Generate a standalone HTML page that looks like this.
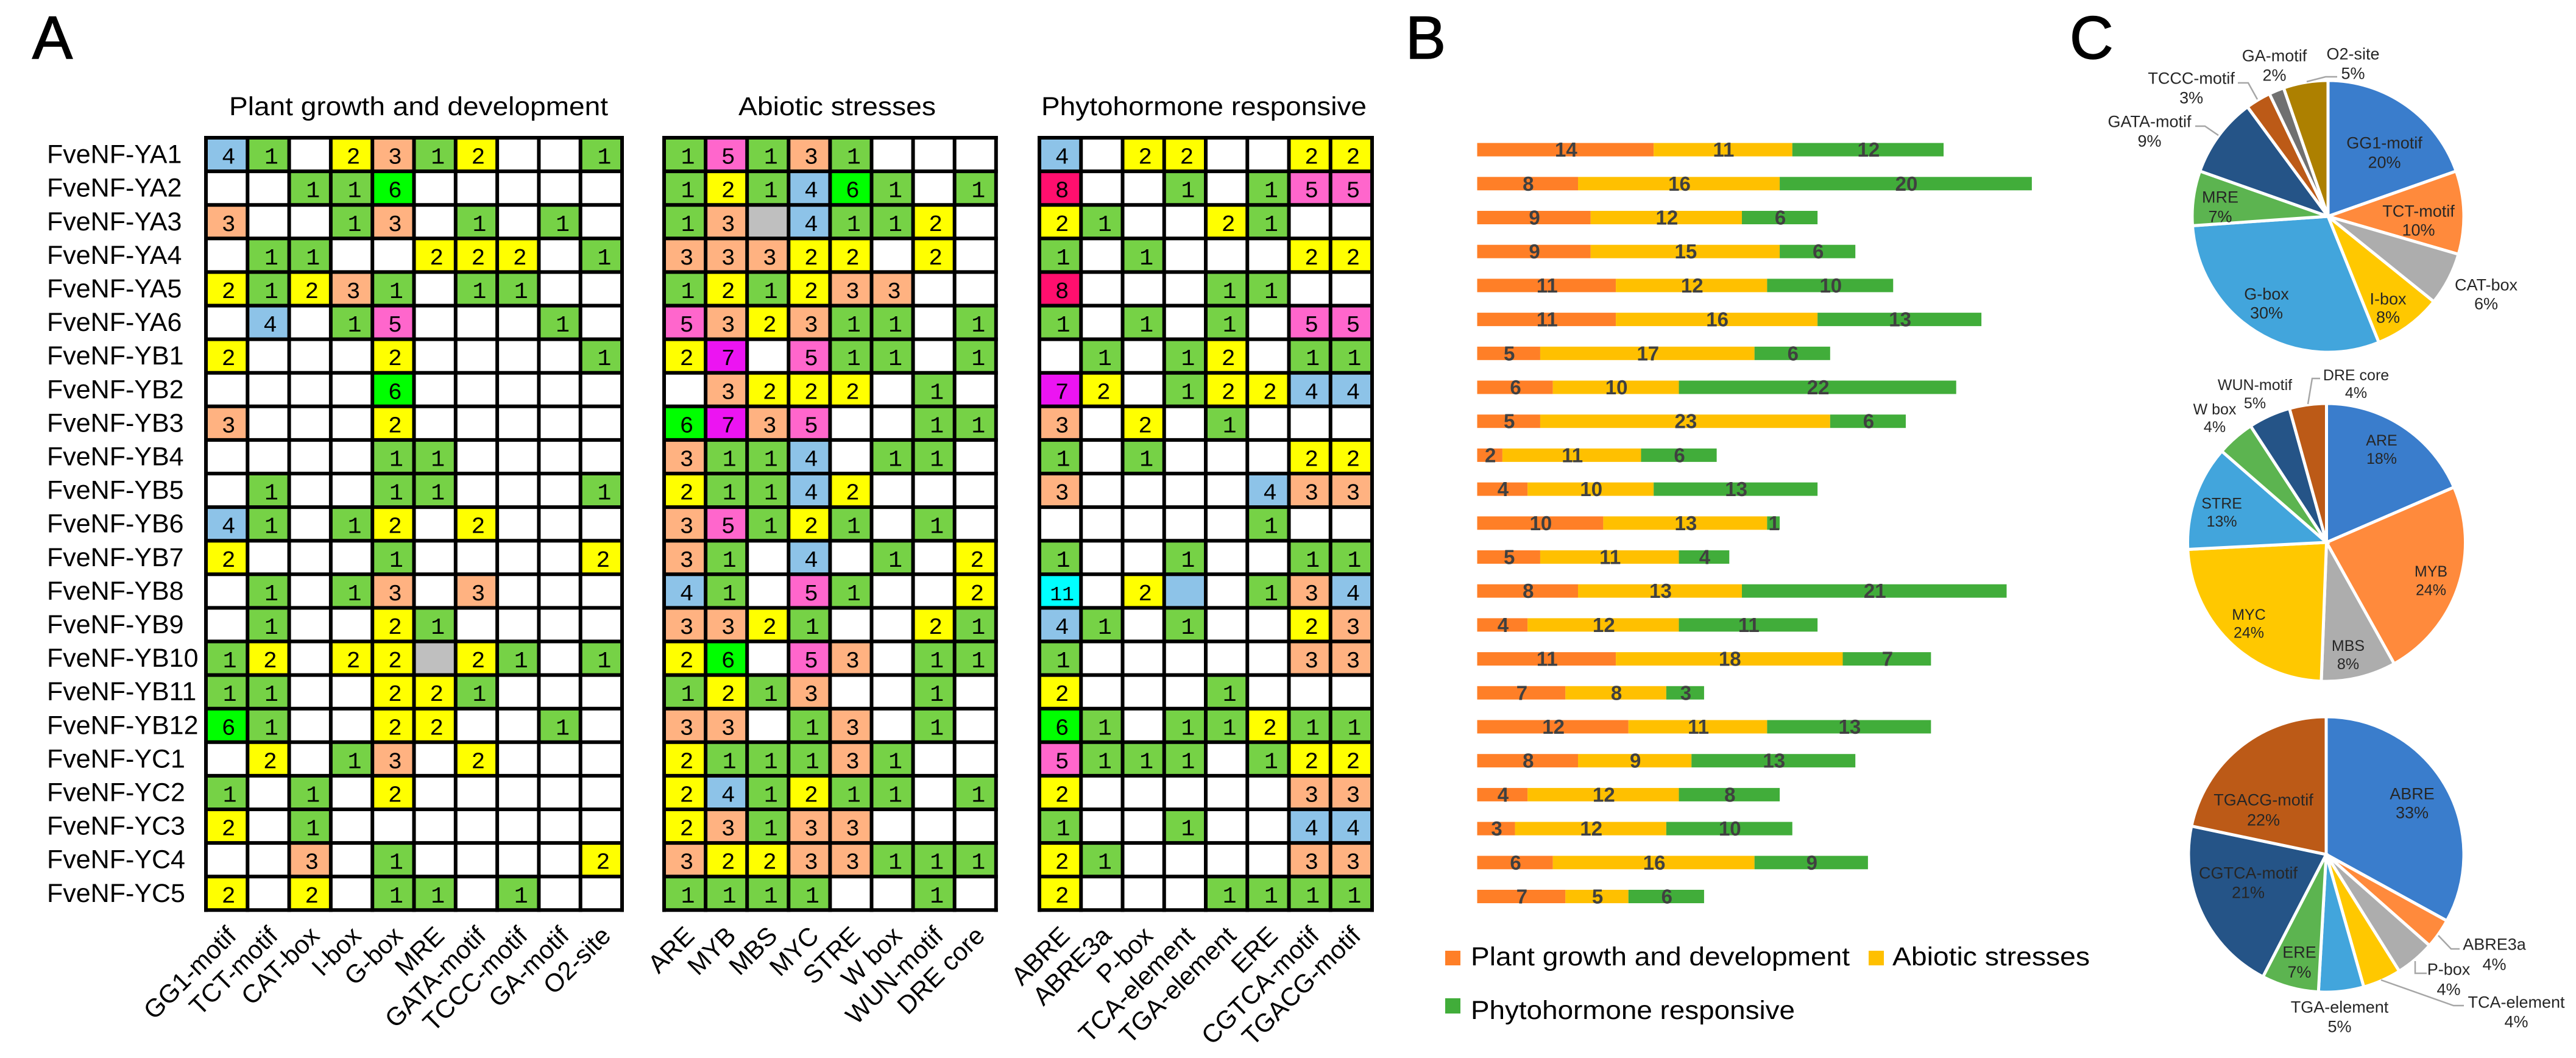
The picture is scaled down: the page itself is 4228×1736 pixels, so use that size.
<!DOCTYPE html>
<html lang="en">
<head>
<meta charset="utf-8">
<title>FveNF-Y promoter cis-element analysis</title>
<style>
html,body{margin:0;padding:0;background:#fff;}
svg{display:block;font-family:"Liberation Sans",sans-serif;}
.panel{font-size:99px;fill:#000;stroke:#000;stroke-width:1.6px;}
.head{font-size:43px;fill:#000;}
.leg{font-size:43px;fill:#000;}
</style>
</head>
<body>
<svg id="figure" xmlns="http://www.w3.org/2000/svg" width="4228" height="1736" viewBox="0 0 4228 1736">
<rect x="0" y="0" width="4228" height="1736" fill="#fff"/>
<text class="panel" x="53" y="96">A</text>
<text class="panel" x="2307" y="96">B</text>
<text class="panel" x="3397" y="96">C</text>
<text class="head" x="376" y="189" textLength="622" lengthAdjust="spacingAndGlyphs">Plant growth and development</text>
<text class="head" x="1212" y="189" textLength="324" lengthAdjust="spacingAndGlyphs">Abiotic stresses</text>
<text class="head" x="1709" y="189" textLength="534" lengthAdjust="spacingAndGlyphs">Phytohormone responsive</text>
<rect x="2372" y="1560" width="25" height="24" fill="#FF7F27"/>
<text class="leg" x="2414" y="1584" textLength="622" lengthAdjust="spacingAndGlyphs">Plant growth and development</text>
<rect x="3067" y="1560" width="25" height="24" fill="#FFC000"/>
<text class="leg" x="3106" y="1584" textLength="324" lengthAdjust="spacingAndGlyphs">Abiotic stresses</text>
<rect x="2372" y="1638" width="25" height="25" fill="#41AD3A"/>
<text class="leg" x="2414" y="1672" textLength="532" lengthAdjust="spacingAndGlyphs">Phytohormone responsive</text>
</svg>
<script>
// ---------- data ----------
const genes = ["FveNF-YA1","FveNF-YA2","FveNF-YA3","FveNF-YA4","FveNF-YA5","FveNF-YA6","FveNF-YB1","FveNF-YB2","FveNF-YB3","FveNF-YB4","FveNF-YB5","FveNF-YB6","FveNF-YB7","FveNF-YB8","FveNF-YB9","FveNF-YB10","FveNF-YB11","FveNF-YB12","FveNF-YC1","FveNF-YC2","FveNF-YC3","FveNF-YC4","FveNF-YC5"];
const plantMotifs = ["GG1-motif","TCT-motif","CAT-box","I-box","G-box","MRE","GATA-motif","TCCC-motif","GA-motif","O2-site"];
const abioticMotifs = ["ARE","MYB","MBS","MYC","STRE","W box","WUN-motif","DRE core"];
const phytoMotifs = ["ABRE","ABRE3a","P-box","TCA-element","TGA-element","ERE","CGTCA-motif","TGACG-motif"];
// 0 = empty, -1 = grey unlabelled cell, -4 = blue unlabelled cell
const plantCells = [
[4,1,0,2,3,1,2,0,0,1],
[0,0,1,1,6,0,0,0,0,0],
[3,0,0,1,3,0,1,0,1,0],
[0,1,1,0,0,2,2,2,0,1],
[2,1,2,3,1,0,1,1,0,0],
[0,4,0,1,5,0,0,0,1,0],
[2,0,0,0,2,0,0,0,0,1],
[0,0,0,0,6,0,0,0,0,0],
[3,0,0,0,2,0,0,0,0,0],
[0,0,0,0,1,1,0,0,0,0],
[0,1,0,0,1,1,0,0,0,1],
[4,1,0,1,2,0,2,0,0,0],
[2,0,0,0,1,0,0,0,0,2],
[0,1,0,1,3,0,3,0,0,0],
[0,1,0,0,2,1,0,0,0,0],
[1,2,0,2,2,-1,2,1,0,1],
[1,1,0,0,2,2,1,0,0,0],
[6,1,0,0,2,2,0,0,1,0],
[0,2,0,1,3,0,2,0,0,0],
[1,0,1,0,2,0,0,0,0,0],
[2,0,1,0,0,0,0,0,0,0],
[0,0,3,0,1,0,0,0,0,2],
[2,0,2,0,1,1,0,1,0,0]];
const abioticCells = [
[1,5,1,3,1,0,0,0],
[1,2,1,4,6,1,0,1],
[1,3,-1,4,1,1,2,0],
[3,3,3,2,2,0,2,0],
[1,2,1,2,3,3,0,0],
[5,3,2,3,1,1,0,1],
[2,7,0,5,1,1,0,1],
[0,3,2,2,2,0,1,0],
[6,7,3,5,0,0,1,1],
[3,1,1,4,0,1,1,0],
[2,1,1,4,2,0,0,0],
[3,5,1,2,1,0,1,0],
[3,1,0,4,0,1,0,2],
[4,1,0,5,1,0,0,2],
[3,3,2,1,0,0,2,1],
[2,6,0,5,3,0,1,1],
[1,2,1,3,0,0,1,0],
[3,3,0,1,3,0,1,0],
[2,1,1,1,3,1,0,0],
[2,4,1,2,1,1,0,1],
[2,3,1,3,3,0,0,0],
[3,2,2,3,3,1,1,1],
[1,1,1,1,0,0,1,0]];
const phytoCells = [
[4,0,2,2,0,0,2,2],
[8,0,0,1,0,1,5,5],
[2,1,0,0,2,1,0,0],
[1,0,1,0,0,0,2,2],
[8,0,0,0,1,1,0,0],
[1,0,1,0,1,0,5,5],
[0,1,0,1,2,0,1,1],
[7,2,0,1,2,2,4,4],
[3,0,2,0,1,0,0,0],
[1,0,1,0,0,0,2,2],
[3,0,0,0,0,4,3,3],
[0,0,0,0,0,1,0,0],
[1,0,0,1,0,0,1,1],
[11,0,2,-4,0,1,3,4],
[4,1,0,1,0,0,2,3],
[1,0,0,0,0,0,3,3],
[2,0,0,0,1,0,0,0],
[6,1,0,1,1,2,1,1],
[5,1,1,1,0,1,2,2],
[2,0,0,0,0,0,3,3],
[1,0,0,1,0,0,4,4],
[2,1,0,0,0,0,3,3],
[2,0,0,0,1,1,1,1]];

const plantCounts = [14,8,9,9,11,11,5,6,5,2,4,10,5,8,4,11,7,12,8,4,3,6,7];
const abioticCounts = [11,16,12,15,12,16,17,10,23,11,10,13,11,13,12,18,8,11,9,12,12,16,5];
const phytoCounts = [12,20,6,6,10,13,6,22,6,6,13,1,4,21,11,7,3,13,13,8,10,9,6];

const pie1Names = plantMotifs;
const pie1Values = [19.6,9.9,6.3,8.1,30,6.5,9.5,3,1.8,5.3];
const pie1Printed = ["20%","10%","6%","8%","30%","7%","9%","3%","2%","5%"];
const pie2Names = abioticMotifs;
const pie2Values = [18.5,23.4,8.7,23.6,12.2,4.4,4.9,4.3];
const pie2Printed = ["18%","24%","8%","24%","13%","4%","5%","4%"];
const pie3Names = phytoMotifs;
const pie3Values = [33,3.5,4.6,4.5,5.3,6.7,20.7,21.7];
const pie3Printed = ["33%","4%","4%","4%","5%","7%","21%","22%"];

// ---------- layout / style ----------
const NS = "http://www.w3.org/2000/svg";
const svg = document.getElementById("figure");
const cellColors = {1:"#76D246",2:"#FFFF00",3:"#FFB281",4:"#8DC3E8",5:"#FF66CC",6:"#00FF00",7:"#EC14F2",8:"#FF0F6E",11:"#00FFFF","-1":"#BFBFBF","-4":"#8DC3E8"};
const pieColors = ["#3A7DCC","#FF8A3C","#ADADAD","#FFC800","#42A5DC","#5CB450","#255487","#BC5A17","#707070","#AD8000"];
const pie2Colors = ["#3A7DCC","#FF8A3C","#ADADAD","#FFC800","#42A5DC","#5CB450","#255487","#BC5A17"];
const pie3Colors = ["#3A7DCC","#FF8A3C","#ADADAD","#FFC800","#42A5DC","#5CB450","#255487","#BC5A17"];

function make(tag, attrs, text) {
  const e = document.createElementNS(NS, tag);
  for (const k in attrs) e.setAttribute(k, attrs[k]);
  if (text !== undefined) e.textContent = text;
  svg.appendChild(e);
  return e;
}

// ---------- heatmaps ----------
const ROW0 = 226, ROWH = 55.1;
function yRow(i) { return ROW0 + i * ROWH; }
function xCol(x0, pitch, j) { return x0 + j * pitch; }

function drawHeatmap(x0, pitch, matrix, motifs) {
  matrix.forEach(function (row, i) {
    row.forEach(function (v, j) {
      if (v === 0) return;
      const c = make("rect", {x: xCol(x0, pitch, j), y: yRow(i), width: pitch, height: ROWH, fill: cellColors[v]});
      
      
      if (v > 0) {
        const dx = v === 1 ? 5 : 3;
        const t = make("text", {x: xCol(x0, pitch, j) + pitch / 2 + dx, y: yRow(i) + ROWH / 2 + 15, "text-anchor": "middle", "font-family": "'Liberation Mono',monospace", "font-size": v === 11 ? 33 : 38, fill: "#000"}, String(v));
        
        
      }
    });
  });
  for (let j = 0; j <= motifs.length; j++) {
    const l = make("line", {x1: xCol(x0, pitch, j), x2: xCol(x0, pitch, j), y1: yRow(0) - 3, y2: yRow(matrix.length) + 3, stroke: "#000", "stroke-width": 6});
    
    
  }
  for (let i = 0; i <= matrix.length; i++) {
    const l = make("line", {x1: xCol(x0, pitch, 0) - 3, x2: xCol(x0, pitch, motifs.length) + 3, y1: yRow(i), y2: yRow(i), stroke: "#000", "stroke-width": 6});
    
    
  }
  motifs.forEach(function (m, j) {
    const ax = xCol(x0, pitch, j) + pitch / 2 + 18, ay = 1538;
    const t = make("text", {x: ax, y: ay, "text-anchor": "end", "font-size": 42, fill: "#000", transform: "rotate(-45 " + ax + " " + ay + ")"}, m);
    
    
  });
}
drawHeatmap(338, 68.3, plantCells, plantMotifs);
drawHeatmap(1090, 68.1, abioticCells, abioticMotifs);
drawHeatmap(1706, 68.25, phytoCells, phytoMotifs);

genes.forEach(function (g, i) {
  const t = make("text", {x: 77, y: yRow(i) + ROWH / 2 + 14, "font-size": 43, fill: "#000"}, g);
  
  
});

// ---------- stacked bars ----------
const BAR_X0 = 2424.5, BAR_UNIT = 20.69, BAR_Y0 = 234.6, BAR_PITCH = 55.7, BAR_H = 22;
function xBar(v) { return BAR_X0 + v * BAR_UNIT; }
function yBar(i) { return BAR_Y0 + i * BAR_PITCH; }
const barSeries = [plantCounts, abioticCounts, phytoCounts];
const barColors = ["#FF7F27", "#FFC000", "#41AD3A"];
genes.forEach(function (g, i) {
  let cum = 0;
  barSeries.forEach(function (series, s) {
    const v = series[i];
    const r = make("rect", {x: xBar(cum), y: yBar(i), width: xBar(cum + v) - xBar(cum), height: BAR_H, fill: barColors[s]});
    
    
    cum += v;
  });
});
genes.forEach(function (g, i) {
  let cum = 0;
  barSeries.forEach(function (series) {
    const v = series[i];
    const t = make("text", {x: xBar(cum + v / 2) + 1, y: yBar(i) + BAR_H / 2 + 11.5, "text-anchor": "middle", "font-size": 33, "font-weight": "bold", fill: "#404040"}, String(v));
    
    
    cum += v;
  });
});

// ---------- pies ----------
function polar(cx, cy, r, frac) {
  const a = frac * 2 * Math.PI;
  return [cx + r * Math.sin(a), cy - r * Math.cos(a)];
}
function drawPie(cx, cy, r, values, colors) {
  const total = values.reduce(function (a, b) { return a + b; }, 0);
  let cum = 0;
  values.forEach(function (v, i) {
    const p0 = polar(cx, cy, r, cum / total);
    const p1 = polar(cx, cy, r, (cum + v) / total);
    const large = v / total > 0.5 ? 1 : 0;
    const d = "M" + cx + " " + cy + "L" + p0[0] + " " + p0[1] + "A" + r + " " + r + " 0 " + large + " 1 " + p1[0] + " " + p1[1] + "Z";
    const s = make("path", {d: d, fill: colors[i], stroke: "#fff", "stroke-width": 5, "stroke-linejoin": "miter"});
    
    
    cum += v;
  });
}
drawPie(3821, 355, 223, pie1Values, pieColors);
drawPie(3818.5, 890, 228, pie2Values, pie2Colors);
drawPie(3818, 1402, 226, pie3Values, pie3Colors);

function drawLeader(points) {
  const l = make("polyline", {points: points, fill: "none", stroke: "#A6A6A6", "stroke-width": 2.5});
  
  
}
drawLeader("3673,136 3690,136 3705,163");
drawLeader("3603,207 3619,207 3641,222");
drawLeader("3836,126 3817,126 3786,134");
drawLeader("3808,621 3795,621 3788,663");
drawLeader("4037,1557 4023,1557 4002,1535");
drawLeader("3983,1597 3964,1597 3964,1577");
drawLeader("4044,1650 4027,1650 3908,1608");

// label placement (layout only): x, name-line centre y, percent-line centre y
const pie1Layout = [[3913.5,234,266],[3969.5,346,377],[4080.5,467,498],[3919.5,490,520],[3720,482,513],[3644,323,355],[3528,199,231],[3596.6,128,160],[3733,91,123],[3862,88,120]];
const pie2Layout = [[3909,722,752],[3990,937,967.5],[3854,1059,1089],[3691,1008,1037.6],[3646.6,825.5,855],[3635,671,700],[3701,631,661],[3867,615,644]];
const pie3Layout = [[3959,1302,1333],[4094,1549,1582],[4019,1590,1623],[4130,1644,1676],[3840,1652,1684],[3774,1562,1594.5],[3690,1432,1464],[3715,1312,1345]];
function drawPieLabels(names, printed, layout, size) {
  names.forEach(function (n, i) {
    const p = layout[i];
    const a = make("text", {x: p[0], y: p[1] + size * 0.36, "text-anchor": "middle", "font-size": size, fill: "#262626"}, n);
    
    
    const b = make("text", {x: p[0], y: p[2] + size * 0.36, "text-anchor": "middle", "font-size": size, fill: "#262626"}, printed[i]);
    
    
  });
}
drawPieLabels(pie1Names, pie1Printed, pie1Layout, 27);
drawPieLabels(pie2Names, pie2Printed, pie2Layout, 25);
drawPieLabels(pie3Names, pie3Printed, pie3Layout, 27);
</script>
</body>
</html>
